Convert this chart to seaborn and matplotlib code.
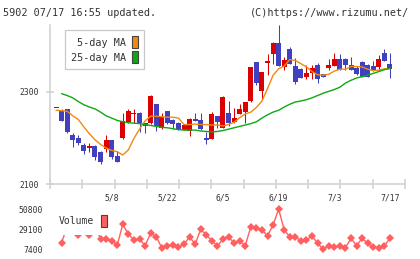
import numpy as np
import pandas as pd
import matplotlib
matplotlib.use("Agg")
import matplotlib.pyplot as plt
from matplotlib.patches import Patch
import seaborn as sns

sns.set_style("white")
plt.rcParams["font.family"] = ["DejaVu Sans Mono", "DejaVu Sans"]

OUTPUT = "out.png"
LAST_DATE = "2024-07-17"
TITLE_LEFT = "5902 07/17 16:55 updated."
TITLE_RIGHT = "(C)https://www.rizumu.net/"

OPEN = [2264, 2258, 2262, 2206, 2199, 2184, 2179, 2183, 2170, 2177,
        2195, 2161, 2199, 2235, 2252, 2254, 2233, 2232, 2273, 2221,
        2258, 2239, 2233, 2217, 2216, 2242, 2239, 2200, 2198, 2247,
        2222, 2253, 2235, 2252, 2257, 2280, 2364, 2302, 2363, 2383,
        2407, 2354, 2394, 2356, 2349, 2333, 2340, 2358, 2338, 2352,
        2356, 2372, 2372, 2358, 2351, 2364, 2359, 2356, 2353, 2385,
        2361]
HIGH = [2264, 2263, 2263, 2210, 2207, 2190, 2189, 2184, 2171, 2206,
        2196, 2172, 2254, 2262, 2262, 2257, 2233, 2293, 2274, 2255,
        2259, 2241, 2235, 2228, 2243, 2255, 2255, 2213, 2257, 2248,
        2291, 2280, 2264, 2273, 2278, 2354, 2365, 2344, 2383, 2408,
        2444, 2375, 2397, 2374, 2351, 2359, 2358, 2362, 2338, 2372,
        2385, 2381, 2373, 2376, 2355, 2366, 2360, 2366, 2380, 2392,
        2385]
LOW = [2264, 2237, 2210, 2181, 2184, 2165, 2170, 2152, 2143, 2170,
       2154, 2147, 2198, 2233, 2233, 2213, 2211, 2231, 2215, 2220,
       2230, 2219, 2218, 2217, 2205, 2237, 2218, 2187, 2197, 2221,
       2221, 2226, 2233, 2251, 2233, 2277, 2314, 2284, 2336, 2360,
       2355, 2348, 2360, 2316, 2330, 2328, 2328, 2320, 2332, 2348,
       2356, 2348, 2348, 2348, 2337, 2332, 2332, 2346, 2348, 2367,
       2330]
CLOSE = [2264, 2237, 2213, 2196, 2188, 2172, 2182, 2158, 2148, 2195,
         2158, 2148, 2236, 2259, 2254, 2232, 2226, 2291, 2226, 2246,
         2233, 2230, 2218, 2228, 2242, 2237, 2219, 2195, 2252, 2235,
         2288, 2232, 2244, 2262, 2277, 2353, 2320, 2343, 2367, 2406,
         2356, 2369, 2361, 2322, 2331, 2341, 2351, 2328, 2333, 2358,
         2372, 2348, 2358, 2348, 2338, 2333, 2333, 2347, 2372, 2367,
         2349]
MA5 = [2260, 2259, 2258, 2248, 2240, 2224, 2209, 2196, 2186, 2178,
       2173, 2170, 2163, 2174, 2199, 2219, 2237, 2247, 2247, 2246,
       2245, 2245, 2243, 2229, 2229, 2230, 2229, 2229, 2228, 2228,
       2226, 2229, 2234, 2244, 2252, 2256, 2266, 2280, 2307, 2336,
       2350, 2356, 2370, 2368, 2361, 2354, 2344, 2337, 2336, 2338,
       2345, 2349, 2349, 2355, 2355, 2354, 2349, 2346, 2347, 2350,
       2350]
MA25 = [np.nan, 2296, 2292, 2287, 2279, 2272, 2267, 2263, 2256, 2248,
        2243, 2238, 2235, 2233, 2232, 2231, 2229, 2227, 2225, 2223,
        2222, 2220, 2218, 2217, 2217, 2217, 2215, 2214, 2213, 2214,
        2216, 2219, 2222, 2225, 2228, 2231, 2235, 2243, 2250, 2256,
        2260, 2267, 2273, 2278, 2280, 2283, 2287, 2292, 2297, 2301,
        2305, 2310, 2319, 2325, 2330, 2333, 2336, 2340, 2344, 2348,
        2351]
VOLUME = [np.nan, 14600, 32000, 33000, 22600, 33000, 22600, 32000, 18900, 18600,
          16700, 12100, 34500, 23700, 17500, 18600, 11300, 24800, 21100, 9100,
          11000, 12100, 9600, 12800, 21100, 12800, 29100, 22900, 16700, 11000,
          18600, 21100, 13900, 16400, 11300, 31900, 30200, 28300, 22200, 33800,
          51000, 28300, 21100, 21100, 16400, 17500, 21800, 13900, 7700, 11300,
          10200, 11000, 9100, 19300, 11300, 19300, 13900, 10200, 8500, 11300,
          19300]

TICK_DATES = ["5/8", "5/22", "6/5", "6/19", "7/3", "7/17"]
PRICE_TICKS = [2100, 2300]
VOLUME_TICKS = [7400, 29100, 50800]
MA_LABELS = ["5-day MA", "25-day MA"]
VOLUME_LABEL = "Volume"

UP = "#dc0000"
DOWN = "#4040c0"
MA5_COLOR = "#f08a10"
MA25_COLOR = "#10a810"
VOL_COLOR = "#ff5f5f"
AXIS_COLOR = "#d0d0d0"
TEXT_COLOR = "#333333"


def main():
    n = len(CLOSE)
    dates = pd.bdate_range(end=LAST_DATE, periods=n)
    df = pd.DataFrame({
        "x": np.arange(n),
        "date": [f"{d.month}/{d.day}" for d in dates],
        "open": OPEN, "high": HIGH, "low": LOW, "close": CLOSE,
        "ma5": MA5, "ma25": MA25, "volume": VOLUME,
    })

    fig = plt.figure(figsize=(4.2, 2.59), dpi=100)
    ax = fig.add_axes([50 / 420, 75 / 259, 355 / 420, 159 / 259])
    axv = fig.add_axes([50 / 420, 3 / 259, 355 / 420, 54 / 259])

    # candles
    up = df["close"] >= df["open"]
    colors = np.where(up, UP, DOWN)
    ax.vlines(df["x"], df["low"], df["high"], colors=colors, linewidth=0.75, zorder=2)
    body_lo = np.minimum(df["open"], df["close"])
    body_h = np.maximum((df["close"] - df["open"]).abs(), 2)
    ax.bar(df["x"], body_h, bottom=body_lo, width=0.9, color=colors,
           linewidth=0, zorder=3)

    # moving averages
    sns.lineplot(data=df, x="x", y="ma5", ax=ax, color=MA5_COLOR,
                 linewidth=1, zorder=4)
    sns.lineplot(data=df, x="x", y="ma25", ax=ax, color=MA25_COLOR,
                 linewidth=1, zorder=4)

    xlim = (-1.08, 62.7)
    ax.set_xlim(xlim)
    ax.set_ylim(2100, 2445)
    ax.set_xlabel("")
    ax.set_ylabel("")
    for side in ["top", "right"]:
        ax.spines[side].set_visible(False)
    for side in ["left", "bottom"]:
        ax.spines[side].set_color(AXIS_COLOR)
        ax.spines[side].set_linewidth(1.1)

    ax.set_xticks(np.linspace(xlim[0], xlim[1], 12))
    ax.set_xticklabels([])
    tick_pos = [int(df.index[df["date"] == d][0]) for d in TICK_DATES]
    ax.set_xticks(tick_pos, minor=True)
    ax.set_xticklabels(TICK_DATES, minor=True)
    ax.tick_params(axis="x", which="major", direction="inout", length=6.5,
                   width=1.1, color=AXIS_COLOR, bottom=True)
    ax.tick_params(axis="x", which="minor", length=0, pad=6.5,
                   labelsize=5.8, labelcolor=TEXT_COLOR, bottom=True)
    ax.set_yticks(PRICE_TICKS)
    ax.set_yticklabels([str(t) for t in PRICE_TICKS])
    ax.tick_params(axis="y", direction="inout", length=6, width=1.1,
                   color=AXIS_COLOR, pad=5, labelsize=5.8,
                   labelcolor=TEXT_COLOR, left=True)

    handles = [Patch(facecolor=MA5_COLOR, edgecolor="#444444", linewidth=0.8),
               Patch(facecolor=MA25_COLOR, edgecolor="#444444", linewidth=0.8)]
    leg = ax.legend(handles, MA_LABELS, loc="upper left",
                    bbox_to_anchor=(0.0423, 0.9686), borderaxespad=0,
                    markerfirst=False, handlelength=0.6, handleheight=1.5,
                    handletextpad=0.6, labelspacing=0.25, borderpad=0.6,
                    fancybox=False, framealpha=1, edgecolor="#c8c8c8",
                    prop={"family": "DejaVu Sans Mono", "size": 7.3})
    leg.get_frame().set_linewidth(0.9)
    for t in leg.get_texts():
        t.set_color(TEXT_COLOR)

    # volume
    sns.lineplot(data=df, x="x", y="volume", ax=axv, color=VOL_COLOR,
                 linewidth=1, marker="D", markersize=3.6, markeredgewidth=0)
    axv.set_xlim(xlim)
    axv.set_ylim(130, 58720)
    axv.set_xlabel("")
    axv.set_ylabel("")
    for side in axv.spines:
        axv.spines[side].set_visible(False)
    axv.set_xticks([])
    axv.set_yticks(VOLUME_TICKS)
    axv.set_yticklabels([str(t) for t in VOLUME_TICKS])
    axv.tick_params(axis="y", length=0, pad=5, labelsize=5.8,
                    labelcolor=TEXT_COLOR, left=True)
    vleg = axv.legend([Patch(facecolor=VOL_COLOR, edgecolor="#444444", linewidth=0.8)],
                      [VOLUME_LABEL], loc="upper left",
                      bbox_to_anchor=(0.0, 0.926), borderaxespad=0,
                      markerfirst=False, handlelength=0.65, handleheight=1.5,
                      handletextpad=0.7, borderpad=0.9, fancybox=False,
                      framealpha=1, edgecolor="white",
                      prop={"family": "DejaVu Sans Mono", "size": 7})
    vleg.get_frame().set_linewidth(0)
    vleg.set_zorder(10)
    for t in vleg.get_texts():
        t.set_color(TEXT_COLOR)

    fig.text(3 / 420, 1 - 13 / 259, TITLE_LEFT, ha="left", va="center",
             fontsize=7.3, color=TEXT_COLOR)
    fig.text(409 / 420, 1 - 13 / 259, TITLE_RIGHT, ha="right", va="center",
             fontsize=7.3, color=TEXT_COLOR)

    fig.savefig(OUTPUT, dpi=100, facecolor="white")
    plt.close(fig)


if __name__ == "__main__":
    main()
